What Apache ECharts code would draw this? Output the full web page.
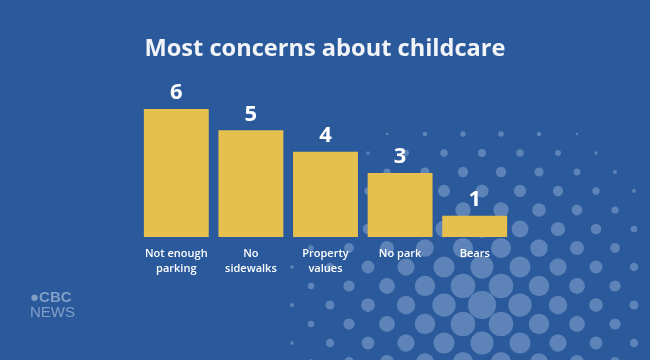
<!DOCTYPE html>
<html><head><meta charset="utf-8">
<script src="https://cdn.jsdelivr.net/npm/echarts@6/dist/echarts.min.js"></script>
<style>html,body{margin:0;padding:0;background:#2a5a9b;}#c{width:650px;height:360px;}</style>
</head><body><div id="c"></div>
<script>
const categories = ['Not enough\nparking', 'No\nsidewalks', 'Property\nvalues', 'No park', 'Bears'];
const values = [6, 5, 4, 3, 1];
const titleText = 'Most concerns about childcare';

// decorative halftone dots (background decoration only)
const dots = [];
const cx = 482, cy = 305;
for (let r = -9; r <= 6; r++) {
  for (let c = -10; c <= 10; c++) {
    const x = cx + c * 38 + (r % 2 !== 0 ? 19 : 0);
    const y = cy + r * 19;
    const d = Math.hypot(x - cx, (y - cy) * 1.05);
    const rad = 14 - d / 16;
    const rr = Math.max(rad, d < 200 ? 1.4 : 0);
    if (rr > 1.2 && x < 660) dots.push({type: 'circle', silent: true, z: -1, shape: {cx: x, cy: y, r: rr}, style: {fill: 'rgba(185,205,235,0.36)'}});
  }
}

const chart = echarts.init(document.getElementById('c'), null, {renderer: 'canvas'});
chart.setOption({
  backgroundColor: '#2a5a9b',
  animation: false,
  title: {text: titleText, left: 'center', top: 32,
    textStyle: {color: '#f2f4f8', fontSize: 23.6, fontWeight: 'bold', fontFamily: 'Open Sans'}},
  grid: {left: 139, right: 138, top: 109, bottom: 123},
  xAxis: {type: 'category', data: categories,
    axisLine: {show: false}, axisTick: {show: false},
    axisLabel: {color: '#ffffff', fontSize: 11, fontWeight: 600, fontFamily: 'Open Sans', margin: 9, lineHeight: 15, interval: 0}},
  yAxis: {type: 'value', min: 0, max: 6, show: false, splitLine: {show: false}},
  series: [{type: 'bar', data: values, barCategoryGap: '13%',
    itemStyle: {color: '#e6c04f'},
    label: {show: true, position: 'top', distance: 5, color: '#ffffff', fontSize: 22, fontWeight: 'bold', fontFamily: 'Open Sans'}}],
  graphic: dots.concat([
    {type: 'text', left: 30, top: 290, silent: true, style: {text: '\u25CFCBC', fill: 'rgba(200,215,235,0.55)', font: 'bold 15px "Liberation Sans"'}},
    {type: 'text', left: 30, top: 305, silent: true, style: {text: 'NEWS', fill: 'rgba(200,215,235,0.55)', font: '15px "Liberation Sans"'}}
  ])
});
</script></body></html>
